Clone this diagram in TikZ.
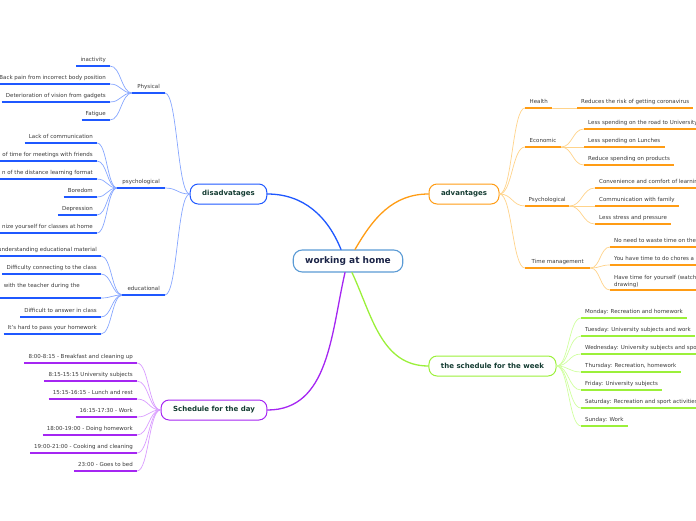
\documentclass[tikz,border=0pt]{standalone}
\usepackage{fontspec}
\setmainfont{DejaVu Sans}
\usetikzlibrary{calc}

\definecolor{hubline}{HTML}{5B9BD5}
\definecolor{hubtext}{HTML}{1B2447}
\definecolor{topictext}{HTML}{143C32}
\definecolor{leaftext}{HTML}{3A3A3A}
\definecolor{disdark}{HTML}{1F58FF}
\definecolor{dislight}{HTML}{86A6FF}
\definecolor{advdark}{HTML}{FF9C14}
\definecolor{advlight}{HTML}{FFD38A}
\definecolor{weekdark}{HTML}{9BF03A}
\definecolor{weeklight}{HTML}{CFFF9E}
\definecolor{daydark}{HTML}{A526F2}
\definecolor{daylight}{HTML}{D99CFF}

\newcommand{\leaffont}{\fontsize{5.5}{6.5}\selectfont}

\tikzset{
  hub/.style={draw=hubline, rounded corners=9pt, line width=1.1pt, fill=white,
    minimum height=22pt, inner xsep=12pt, text=hubtext,
    font=\bfseries\fontsize{9}{10}\selectfont},
  topic/.style={rounded corners=8pt, line width=1pt, fill=white,
    minimum height=20pt, inner xsep=12pt, text=topictext,
    font=\bfseries\fontsize{7}{8}\selectfont},
  leaf/.style={inner xsep=4pt, inner ysep=2.5pt, text height=4pt, text depth=1.5pt,
    text=leaftext, font=\leaffont},
  sub/.style={leaf, inner xsep=5pt},
  mainline/.style={line width=1.3pt},
  thin/.style={line width=0.7pt},
  bar/.style={line width=1.8pt, line cap=butt},
  curvy/.style={to path={let \p1=(\tikztostart), \p2=(\tikztotarget) in
    .. controls ({(\x1+\x2)/2},\y1) and ({(\x1+\x2)/2},\y2) .. (\tikztotarget)}}
}

\begin{document}
\begin{tikzpicture}[x=1pt, y=-1pt, line cap=round, line join=round]
  \useasboundingbox (0,0) rectangle (696,520);
  \clip (0,0) rectangle (696,520);

  % centre and main topics
  \node[hub] (home) at (348,261) {working at home};
  \node[topic, draw=disdark] (disadv) at (228.5,194) {disadvatages};
  \node[topic, draw=advdark] (adv) at (464,194) {advantages};
  \node[topic, draw=weekdark] (week) at (492.5,366) {the schedule for the week};
  \node[topic, draw=daydark] (day) at (214,410) {Schedule for the day};

  \coordinate (homeDis) at ([xshift=-7pt]home.north);
  \coordinate (homeAdv) at ([xshift=7pt]home.north);
  \coordinate (homeWeek) at ([xshift=4pt]home.south);
  \coordinate (homeDay) at ([xshift=-3pt]home.south);

  % disadvantages
  \node[sub, anchor=south east] (phys) at (165,93) {Physical};
  \node[sub, anchor=south east] (psy) at (165,188) {psychological};
  \node[sub, anchor=south east] (edu) at (165,295) {educational};

  \node[leaf, anchor=south east] (inact) at (110,66) {inactivity};
  \node[leaf, anchor=south east] (back) at (110,84) {Back pain from incorrect body position};
  \node[leaf, anchor=south east] (vision) at (110,102) {Deterioration of vision from gadgets};
  \node[leaf, anchor=south east] (fatig) at (110,120) {Fatigue};

  \node[leaf, anchor=south east] (lack) at (97,143) {Lack of communication};
  \node[leaf, anchor=south east] (meet) at (97,161) {of time for meetings with friends};
  \node[leaf, anchor=south east] (dist) at (97,179) {n of the distance learning format};
  \node[leaf, anchor=south east] (bored) at (97,197) {Boredom};
  \node[leaf, anchor=south east] (depr) at (97,215) {Depression};
  \node[leaf, anchor=south east] (organ) at (97,233) {nize yourself for classes at home};

  \node[leaf, anchor=south east] (under) at (101,256) {understanding educational material};
  \node[leaf, anchor=south east] (conn) at (101,274) {Difficulty connecting to the class};
  \node[leaf, anchor=south east, text width=93pt, align=left, text depth=8pt] (teach) at (101,298) {with the teacher during the};
  \node[leaf, anchor=south east] (answ) at (101,317) {Difficult to answer in class};
  \node[leaf, anchor=south east] (hwk) at (101,334) {It's hard to pass your homework};

  % schedule for the day
  \node[leaf, anchor=south east] (d1) at (137,363) {8:00-8:15 - Breakfast and cleaning up};
  \node[leaf, anchor=south east] (d2) at (137,381) {8:15-15:15 University subjects};
  \node[leaf, anchor=south east] (d3) at (137,399) {15:15-16:15 - Lunch and rest};
  \node[leaf, anchor=south east] (d4) at (137,417) {16:15-17:30 - Work};
  \node[leaf, anchor=south east] (d5) at (137,435) {18:00-19:00 - Doing homework};
  \node[leaf, anchor=south east] (d6) at (137,453) {19:00-21:00 - Cooking and cleaning};
  \node[leaf, anchor=south east] (d7) at (137,471) {23:00 - Goes to bed};

  % advantages
  \node[sub, anchor=south west, inner xsep=4.5pt] (health) at (525,108) {Health};
  \node[sub, anchor=south west, inner xsep=4.5pt] (econ) at (525,147) {Economic};
  \node[sub, anchor=south west, inner xsep=3.5pt] (psyadv) at (525,206) {Psychological};
  \node[sub, anchor=south west, inner xsep=6.5pt] (time) at (525,268) {Time management};

  \node[leaf, anchor=south west] (risk) at (577,108) {Reduces the risk of getting coronavirus};
  \node[leaf, anchor=south west] (road) at (584,129) {Less spending on the road to University};
  \node[leaf, anchor=south west] (lunch) at (584,147) {Less spending on Lunches};
  \node[leaf, anchor=south west] (prod) at (584,165) {Reduce spending on products};
  \node[leaf, anchor=south west] (comf) at (595,188) {Convenience and comfort of learning};
  \node[leaf, anchor=south west] (fam) at (595,206) {Communication with family};
  \node[leaf, anchor=south west] (stress) at (595,224) {Less stress and pressure};
  \node[leaf, anchor=south west] (waste) at (610,247) {No need to waste time on the};
  \node[leaf, anchor=south west] (chores) at (610,265) {You have time to do chores a};
  \node[leaf, anchor=south west, text width=100pt, align=left, text height={}, text depth={}] (self) at (610,290) {Have time for yourself (watch\\drawing)};

  % schedule for the week
  \node[leaf, anchor=south west] (mon) at (581,318) {Monday: Recreation and homework};
  \node[leaf, anchor=south west] (tue) at (581,336) {Tuesday: University subjects and work};
  \node[leaf, anchor=south west] (wed) at (581,354) {Wednesday: University subjects and sport};
  \node[leaf, anchor=south west] (thu) at (581,372) {Thursday: Recreation, homework};
  \node[leaf, anchor=south west] (fri) at (581,390) {Friday: University subjects};
  \node[leaf, anchor=south west] (sat) at (581,408) {Saturday: Recreation and sport activities};
  \node[leaf, anchor=south west] (sun) at (581,426) {Sunday: Work};

  % main connectors
  \draw[mainline, disdark] (homeDis) to[out=112, in=0] (disadv.east);
  \draw[mainline, advdark] (homeAdv) to[out=60, in=180] (adv.west);
  \draw[mainline, weekdark] (homeWeek) to[out=-65, in=180] (week.west);
  \draw[mainline, daydark] (homeDay) to[out=-103, in=0] (day.east);

  % branch connectors
  \foreach \s in {phys,psy,edu}
    \draw[thin, dislight] (disadv.west) to[curvy] (\s.south east);
  \foreach \l in {inact,back,vision,fatig}
    \draw[thin, dislight] (phys.south west) to[curvy] (\l.south east);
  \foreach \l in {lack,meet,dist,bored,depr,organ}
    \draw[thin, dislight] (psy.south west) to[curvy] (\l.south east);
  \foreach \l in {under,conn,teach,answ,hwk}
    \draw[thin, dislight] (edu.south west) to[curvy] (\l.south east);

  \foreach \l in {d1,d2,d3,d4,d5,d6,d7}
    \draw[thin, daylight] (day.west) to[curvy] (\l.south east);

  \foreach \s in {health,econ,psyadv,time}
    \draw[thin, advlight] (adv.east) to[curvy] (\s.south west);
  \draw[thin, advlight] (health.south east) to[curvy] (risk.south west);
  \foreach \l in {road,lunch,prod}
    \draw[thin, advlight] (econ.south east) to[curvy] (\l.south west);
  \foreach \l in {comf,fam,stress}
    \draw[thin, advlight] (psyadv.south east) to[curvy] (\l.south west);
  \foreach \l in {waste,chores,self}
    \draw[thin, advlight] (time.south east) to[curvy] (\l.south west);

  \foreach \l in {mon,tue,wed,thu,fri,sat,sun}
    \draw[thin, weeklight] (week.east) to[curvy] (\l.south west);

  % underlines
  \foreach \n in {phys,psy,edu,inact,back,vision,fatig,lack,meet,dist,bored,depr,organ,under,conn,teach,answ,hwk}
    \draw[bar, disdark] (\n.south west) -- (\n.south east);
  \foreach \n in {d1,d2,d3,d4,d5,d6,d7}
    \draw[bar, daydark] (\n.south west) -- (\n.south east);
  \foreach \n in {health,econ,psyadv,time,risk,road,lunch,prod,comf,fam,stress,waste,chores,self}
    \draw[bar, advdark] (\n.south west) -- (\n.south east);
  \foreach \n in {mon,tue,wed,thu,fri,sat,sun}
    \draw[bar, weekdark] (\n.south west) -- (\n.south east);
\end{tikzpicture}
\end{document}
